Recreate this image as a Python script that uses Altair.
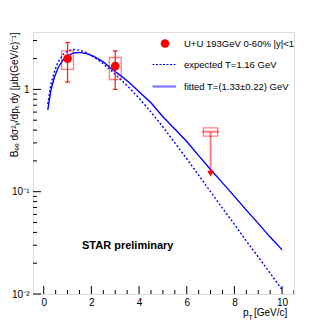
import altair as alt
import pandas as pd

# ---- data ----
fit_pt = [0.17, 0.3, 0.45, 0.6, 0.8, 1.0, 1.25, 1.5, 1.8, 2.1, 2.5, 2.8, 3.2, 3.6, 4.0,
          4.5, 5.0, 5.5, 6.0, 6.5, 7.0, 7.5, 8.0, 8.5, 9.0, 9.5, 10.0]
fit_val = [0.63, 0.98, 1.32, 1.62, 1.93, 2.12, 2.27, 2.30, 2.24, 2.10, 1.86, 1.62, 1.38, 1.16, 0.95,
           0.74, 0.54, 0.41, 0.31, 0.225, 0.165, 0.122, 0.090, 0.066, 0.049, 0.036, 0.027]
exp_pt = fit_pt
exp_val = [0.72, 1.12, 1.50, 1.85, 2.18, 2.38, 2.46, 2.42, 2.28, 2.08, 1.78, 1.55, 1.27, 1.03, 0.82,
           0.60, 0.43, 0.30, 0.21, 0.145, 0.10, 0.069, 0.048, 0.033, 0.023, 0.016, 0.011]

pt_meas = [1.0, 3.0]
y_meas = [2.0, 1.69]
stat_lo = [1.18, 1.0]
stat_hi = [2.87, 2.38]
sys_lo = [1.57, 1.25]
sys_hi = [2.38, 2.05]
box_hw = 0.25
cap_hw = 0.1

ul_pt = [7.0]
ul_val = [0.386]
ul_box_lo = [0.35]
ul_box_hi = [0.42]
ul_arrow_end = [0.15]
ul_hw = 0.3

x_major = [0, 2, 4, 6, 8, 10]
x_minor = [0.5 * i for i in range(0, 22) if (0.5 * i) % 2 != 0]
y_major = [0.01, 0.1, 1.0]
y_minor = [m * d for d in [0.01, 0.1] for m in range(2, 10)] + [2.0, 3.0]

legend_labels = ["U+U 193GeV 0-60% |y|<1", "expected T=1.16 GeV", "fitted T=(1.33\u00b10.22) GeV"]

W, H = 261, 262
FONT = "Liberation Sans"

xs = alt.Scale(domain=[-0.45, 10.5], nice=False, zero=False)
ys = alt.Scale(type="log", domain=[0.01, 3.64], nice=False)

curves = pd.DataFrame({"pt": fit_pt, "fit": fit_val, "exp": exp_val})
meas = pd.DataFrame({
    "pt": pt_meas, "y": y_meas, "slo": stat_lo, "shi": stat_hi,
    "blo": sys_lo, "bhi": sys_hi,
    "bx1": [p - box_hw for p in pt_meas], "bx2": [p + box_hw for p in pt_meas],
    "cx1": [p - cap_hw for p in pt_meas], "cx2": [p + cap_hw for p in pt_meas],
})
ul = pd.DataFrame({
    "pt": ul_pt, "y": ul_val, "blo": ul_box_lo, "bhi": ul_box_hi, "yend": ul_arrow_end,
    "bx1": [p - ul_hw for p in ul_pt], "bx2": [p + ul_hw for p in ul_pt],
    "lx1": [p - ul_hw - 0.05 for p in ul_pt], "lx2": [p + ul_hw + 0.05 for p in ul_pt],
})

xaxis = alt.Axis(values=x_major, ticks=False, domain=False, grid=False, labelFont=FONT,
                 labelFontSize=10, labelPadding=3, labelColor="black", title=None)
yaxis = alt.Axis(values=y_major, ticks=False, domain=False, grid=False, labelFont=FONT,
                 labelFontSize=10, labelPadding=4, labelColor="black",
                 labelExpr="datum.value == 1 ? '1' : (datum.value < 0.05 ? '10\u207b\u00b2' : '10\u207b\u00b9')",
                 title="B\u2091\u2091 d\u03c3\u00b2\u1d67/dp\u209c dy [\u03bcb(GeV/c)\u207b\u00b9]",
                 titleFont=FONT, titleFontSize=10, titleFontWeight="normal", titleColor="black",
                 titleAnchor="end", titleAlign="right", titleAngle=-90, titleBaseline="middle",
                 titleX=-19, titleY=0)

base = alt.Chart(curves)
fit_line = base.mark_line(color="#0000ff", strokeWidth=1.4, clip=True).encode(
    x=alt.X("pt:Q", scale=xs, axis=xaxis), y=alt.Y("fit:Q", scale=ys, axis=yaxis))
exp_line = base.mark_line(color="#0000ff", strokeWidth=1.4, strokeDash=[2, 2], clip=True).encode(
    x=alt.X("pt:Q", scale=xs), y=alt.Y("exp:Q", scale=ys))

mb = alt.Chart(meas)
sys_box = mb.mark_rect(fill=None, fillOpacity=0, stroke="#ff0000", strokeOpacity=0.5, strokeWidth=1.3).encode(
    x=alt.X("bx1:Q", scale=xs), x2="bx2:Q", y=alt.Y("blo:Q", scale=ys), y2="bhi:Q")
stat_bar = mb.mark_rule(color="#ff2020", strokeWidth=1.3).encode(
    x=alt.X("pt:Q", scale=xs), y=alt.Y("slo:Q", scale=ys), y2="shi:Q")
cap_lo = mb.mark_rule(color="#ff2020", strokeWidth=1.3).encode(
    x=alt.X("cx1:Q", scale=xs), x2="cx2:Q", y=alt.Y("slo:Q", scale=ys))
cap_hi = mb.mark_rule(color="#ff2020", strokeWidth=1.3).encode(
    x=alt.X("cx1:Q", scale=xs), x2="cx2:Q", y=alt.Y("shi:Q", scale=ys))
pts = mb.mark_point(filled=True, color="#ff0000", opacity=1, size=75, shape="circle").encode(
    x=alt.X("pt:Q", scale=xs), y=alt.Y("y:Q", scale=ys))

ub = alt.Chart(ul)
ul_box = ub.mark_rect(fill=None, fillOpacity=0, stroke="#ff0000", strokeOpacity=0.5, strokeWidth=1.3).encode(
    x=alt.X("bx1:Q", scale=xs), x2="bx2:Q", y=alt.Y("blo:Q", scale=ys), y2="bhi:Q")
ul_line = ub.mark_rule(color="#ff0000", strokeOpacity=0.5, strokeWidth=2).encode(
    x=alt.X("lx1:Q", scale=xs), x2="lx2:Q", y=alt.Y("y:Q", scale=ys))
ul_stem = ub.mark_rule(color="#ff0000", strokeOpacity=0.5, strokeWidth=2).encode(
    x=alt.X("pt:Q", scale=xs), y=alt.Y("y:Q", scale=ys), y2="yend:Q")
ul_head = ub.mark_point(filled=True, color="#ff0000", opacity=1, size=45, shape="triangle-down").encode(
    x=alt.X("pt:Q", scale=xs), y=alt.Y("yend:Q", scale=ys))

# ticks (inside the frame)
xmaj = alt.Chart(pd.DataFrame({"v": x_major})).mark_rule(color="black", strokeWidth=1).encode(
    x=alt.X("v:Q", scale=xs), y=alt.value(H), y2=alt.value(H - 8))
xmin = alt.Chart(pd.DataFrame({"v": x_minor})).mark_rule(color="black", strokeWidth=1, clip=True).encode(
    x=alt.X("v:Q", scale=xs), y=alt.value(H), y2=alt.value(H - 4))
ymaj = alt.Chart(pd.DataFrame({"v": y_major})).mark_rule(color="black", strokeWidth=1).encode(
    y=alt.Y("v:Q", scale=ys), x=alt.value(0), x2=alt.value(8))
ymin = alt.Chart(pd.DataFrame({"v": y_minor})).mark_rule(color="black", strokeWidth=1).encode(
    y=alt.Y("v:Q", scale=ys), x=alt.value(0), x2=alt.value(4))

# legend
leg_pt = alt.Chart(pd.DataFrame({"k": [0]})).mark_point(filled=True, color="#ff0000", opacity=1, size=75, shape="circle").encode(
    x=alt.value(132), y=alt.value(11.5))
leg_dash = alt.Chart(pd.DataFrame({"k": [0]})).mark_rule(color="#0000ff", strokeWidth=1.2, strokeDash=[2, 1.5]).encode(
    x=alt.value(119.5), x2=alt.value(143), y=alt.value(32.5))
leg_solid = alt.Chart(pd.DataFrame({"k": [0]})).mark_rule(color="#7777ff", strokeWidth=2.2).encode(
    x=alt.value(119.5), x2=alt.value(143), y=alt.value(54.5))
leg_txt = alt.Chart(pd.DataFrame({"t": legend_labels, "yy": [11.5, 32.5, 54.5]})).mark_text(
    align="left", baseline="middle", font=FONT, fontSize=9.5, color="black").encode(
    x=alt.value(151), y=alt.Y("yy:Q", scale=None), text="t:N")

star = alt.Chart(pd.DataFrame({"t": ["STAR preliminary"]})).mark_text(
    align="left", baseline="middle", font=FONT, fontSize=11, fontWeight="bold", color="black").encode(
    x=alt.value(49), y=alt.value(214), text="t:N")

xt_p = alt.Chart(pd.DataFrame({"t": ["p"]})).mark_text(
    align="left", baseline="middle", font=FONT, fontSize=10, color="black").encode(
    x=alt.value(210), y=alt.value(281), text="t:N")
xt_T = alt.Chart(pd.DataFrame({"t": ["T"]})).mark_text(
    align="left", baseline="middle", font=FONT, fontSize=7, color="black").encode(
    x=alt.value(215.5), y=alt.value(286), text="t:N")
xt_u = alt.Chart(pd.DataFrame({"t": ["[GeV/c]"]})).mark_text(
    align="left", baseline="middle", font=FONT, fontSize=10, color="black").encode(
    x=alt.value(221), y=alt.value(281), text="t:N")

chart = alt.layer(
    fit_line, exp_line, sys_box, stat_bar, cap_lo, cap_hi, pts,
    ul_box, ul_line, ul_stem, ul_head,
    xmaj, xmin, ymaj, ymin,
    leg_pt, leg_dash, leg_solid, leg_txt, star, xt_p, xt_T, xt_u,
).properties(
    width=W, height=H,
    autosize=alt.AutoSizeParams(type="none"),
    padding={"left": 25, "top": 24, "right": 25, "bottom": 31},
).configure_view(stroke="#222222", strokeWidth=1.2).configure(background="white")

chart.save("out.html", embed_options={"renderer": "svg", "actions": False})
